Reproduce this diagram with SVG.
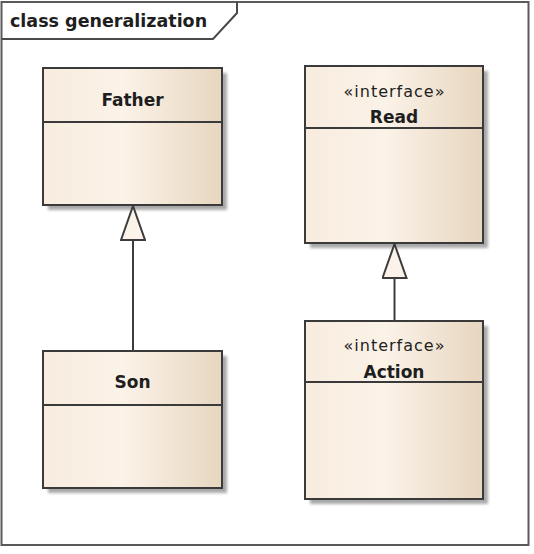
<svg xmlns="http://www.w3.org/2000/svg" width="534" height="554" viewBox="0 0 534 554">
  <defs>
    <linearGradient id="fillGrad" x1="0" y1="0" x2="1" y2="0">
      <stop offset="0" stop-color="#F7ECDE"/>
      <stop offset="0.45" stop-color="#FBF2E8"/>
      <stop offset="1" stop-color="#E7D6BF"/>
    </linearGradient>
    <filter id="shadow" x="-10%" y="-10%" width="130%" height="130%">
      <feGaussianBlur stdDeviation="1.8"/>
    </filter>
    <marker id="genArrow" viewBox="0 0 36 26" refX="35" refY="13" markerWidth="36" markerHeight="26" markerUnits="userSpaceOnUse" orient="auto">
      <path d="M1,1 L35,13 L1,25 Z" fill="#FBF3EA" stroke="#3c3c3c" stroke-width="2" stroke-linejoin="miter"/>
    </marker>
  </defs>
  <style>
    .frame { fill: #ffffff; stroke: #5a5a5a; stroke-width: 2; }
    .tab { fill: none; stroke: #4a4a4a; stroke-width: 2; }
    .shadow { fill: #7a7a7a; opacity: 0.65; filter: url(#shadow); }
    .box { fill: url(#fillGrad); stroke: #3a3a3a; stroke-width: 2; }
    .div { stroke: #3a3a3a; stroke-width: 2; }
    .title { font-family: "DejaVu Sans", Verdana, sans-serif; font-weight: bold; font-size: 17.5px; fill: #1e1e1e; }
    .name { font-family: "DejaVu Sans", Verdana, sans-serif; font-weight: bold; font-size: 17px; fill: #1e1e1e; text-anchor: middle; }
    .stereo { font-family: "DejaVu Sans", Verdana, sans-serif; font-size: 16px; letter-spacing: 1px; fill: #1e1e1e; text-anchor: middle; }
    .conn { stroke: #3c3c3c; stroke-width: 2; fill: none; }
  </style>

  <g id="frame">
    <rect class="frame" x="1.5" y="2" width="527" height="543"/>
    <path class="tab" d="M1.5,39 H213 L237,13 V2"/>
    <text class="title" x="10" y="27">class generalization</text>
  </g>

  <g id="Father">
    <rect class="shadow" x="48" y="73" width="179" height="137"/>
    <rect class="box" x="43" y="68" width="179" height="137"/>
    <line class="div" x1="43" y1="122" x2="222" y2="122"/>
    <text class="name" x="132.5" y="106">Father</text>
  </g>

  <g id="Son">
    <rect class="shadow" x="48" y="356" width="179" height="137"/>
    <rect class="box" x="43" y="351" width="179" height="137"/>
    <line class="div" x1="43" y1="405" x2="222" y2="405"/>
    <text class="name" x="132.5" y="388">Son</text>
  </g>

  <g id="Read">
    <rect class="shadow" x="310" y="71" width="178" height="177"/>
    <rect class="box" x="305" y="66" width="178" height="177"/>
    <line class="div" x1="305" y1="128" x2="483" y2="128"/>
    <text class="stereo" x="394.5" y="97">«interface»</text>
    <text class="name" x="394" y="122.5">Read</text>
  </g>

  <g id="Action">
    <rect class="shadow" x="310" y="326" width="178" height="178"/>
    <rect class="box" x="305" y="321" width="178" height="178"/>
    <line class="div" x1="305" y1="382" x2="483" y2="382"/>
    <text class="stereo" x="394.5" y="351">«interface»</text>
    <text class="name" x="394" y="378">Action</text>
  </g>

  <g id="connectors">
    <line class="conn" x1="133" y1="351" x2="133" y2="206" marker-end="url(#genArrow)"/>
    <line class="conn" x1="394.5" y1="321" x2="394.5" y2="244" marker-end="url(#genArrow)"/>
  </g>
</svg>
